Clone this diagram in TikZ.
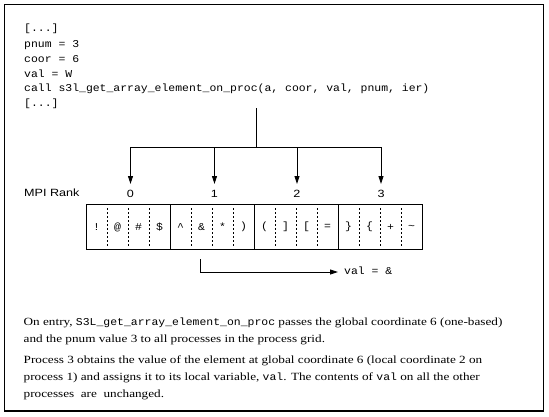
\documentclass[tikz,border=0pt]{standalone}
\usepackage{fontspec}
\usetikzlibrary{arrows.meta}
\newfontfamily\bodyfont{Liberation Serif}[FakeStretch=1.2]
\newfontfamily\codefont{Liberation Mono}[FakeStretch=1.09]
\newfontfamily\labelfont{Liberation Sans}[FakeStretch=1.2]
\newcommand\cdx[1]{{\codefont\fontsize{10.5}{13}\selectfont #1}}
\tikzset{
  code/.style={anchor=mid west,inner sep=0pt,font=\codefont\fontsize{10.5}{13}\selectfont},
  body/.style={anchor=mid west,inner sep=0pt,font=\bodyfont\fontsize{11}{13}\selectfont},
  lab/.style={inner sep=0pt,font=\labelfont\fontsize{10.5}{12}\selectfont},
  cellch/.style={inner sep=0pt,font=\codefont\fontsize{10.5}{13}\selectfont},
  arr/.style={-{Triangle[length=8pt,width=5pt]},line width=0.9pt},
  ln/.style={line width=0.9pt},
  dsh/.style={line width=0.8pt,dash pattern=on 2pt off 2pt}
}
\begin{document}
\begin{tikzpicture}[x=1pt,y=-1pt]
\useasboundingbox (0,0) rectangle (549,416);
\fill[white] (0,0) rectangle (549,416);
\draw[line width=1.3pt] (4.5,4.5) rectangle (543.5,411);
% code
\node[code] (k1) at (24,29) {[...]};
\node[code] (k2) at (24,45) {pnum = 3};
\node[code] (k3) at (24,60) {coor = 6};
\node[code] (k4) at (24,75) {val = W};
\node[code] (k5) at (24,89) {call s3l\_get\_array\_element\_on\_proc(a, coor, val, pnum, ier)};
\node[code] (k6) at (24,104) {[...]};
% tree
\coordinate (stem) at (256.5,108);
\coordinate (bar) at (256.5,147);
\node[lab,anchor=mid west] (mpi) at (24,194) {MPI Rank};
\node[lab] (r0) at (130.5,194) {0};
\node[lab] (r1) at (214.5,194) {1};
\node[lab] (r2) at (297,194) {2};
\node[lab] (r3) at (381,194) {3};
\coordinate (t0) at (130.5,184);
\coordinate (t1) at (214.5,184);
\coordinate (t2) at (297,184);
\coordinate (t3) at (381,184);
\coordinate (h0) at (130.5,147);
\coordinate (h1) at (214.5,147);
\coordinate (h2) at (297,147);
\coordinate (h3) at (381,147);
\draw[ln] (stem) -- (bar);
\draw[ln] (h0) -- (h3);
\draw[arr] (h0) -- (t0);
\draw[arr] (h1) -- (t1);
\draw[arr] (h2) -- (t2);
\draw[arr] (h3) -- (t3);
% array
\node[draw,line width=0.9pt,minimum width=336pt,minimum height=45pt,inner sep=0pt,anchor=north west] (arr) at (86,204) {};
\draw[ln] (170,204) -- (170,249);
\draw[ln] (254,204) -- (254,249);
\draw[ln] (338,204) -- (338,249);
\draw[dsh] (107,208) -- (107,247);
\draw[dsh] (128,208) -- (128,247);
\draw[dsh] (149,208) -- (149,247);
\draw[dsh] (191,208) -- (191,247);
\draw[dsh] (212,208) -- (212,247);
\draw[dsh] (233,208) -- (233,247);
\draw[dsh] (275,208) -- (275,247);
\draw[dsh] (296,208) -- (296,247);
\draw[dsh] (317,208) -- (317,247);
\draw[dsh] (359,208) -- (359,247);
\draw[dsh] (380,208) -- (380,247);
\draw[dsh] (401,208) -- (401,247);
\node[cellch] (c1) at (96.5,227) {!};
\node[cellch] (c2) at (117.5,227) {@};
\node[cellch] (c3) at (138.5,227) {\#};
\node[cellch] (c4) at (159.5,227) {\$};
\node[cellch] (c5) at (180.5,227) {\textasciicircum};
\node[cellch] (c6) at (201.5,227) {\&};
\node[cellch] (c7) at (222.5,227) {*};
\node[cellch] (c8) at (243.5,227) {)};
\node[cellch] (c9) at (264.5,227) {(};
\node[cellch] (c10) at (285.5,227) {]};
\node[cellch] (c11) at (306.5,227) {[};
\node[cellch] (c12) at (327.5,227) {=};
\node[cellch] (c13) at (348.5,227) {\}};
\node[cellch] (c14) at (369.5,227) {\{};
\node[cellch] (c15) at (390.5,227) {+};
\node[cellch] (c16) at (411.5,227) {\textasciitilde};
% result arrow
\coordinate (b1) at (200,259);
\coordinate (b2) at (200,272);
\coordinate (b3) at (338,272);
\node[code] (val) at (344,272) {val = \&};
\draw[ln] (b1) -- (b2);
\draw[arr] (b2) -- (b3);
% body text
\node[body] (p1) at (23.5,323) {On entry, \cdx{S3L\_get\_array\_element\_on\_proc} passes the global coordinate 6 (one-based)};
\node[body] (p2) at (23.5,340) {and the pnum value 3 to all processes in the process grid.};
\node[body] (p3) at (23.5,361) {Process 3 obtains the value of the element at global coordinate 6 (local coordinate 2 on};
\node[body] (p4) at (23.5,378) {process 1) and assigns it to its local variable, \cdx{val}. The contents of \cdx{val} on all the other};
\node[body] (p5) at (23.5,395) {processes \ are \ unchanged.};
\end{tikzpicture}
\end{document}
